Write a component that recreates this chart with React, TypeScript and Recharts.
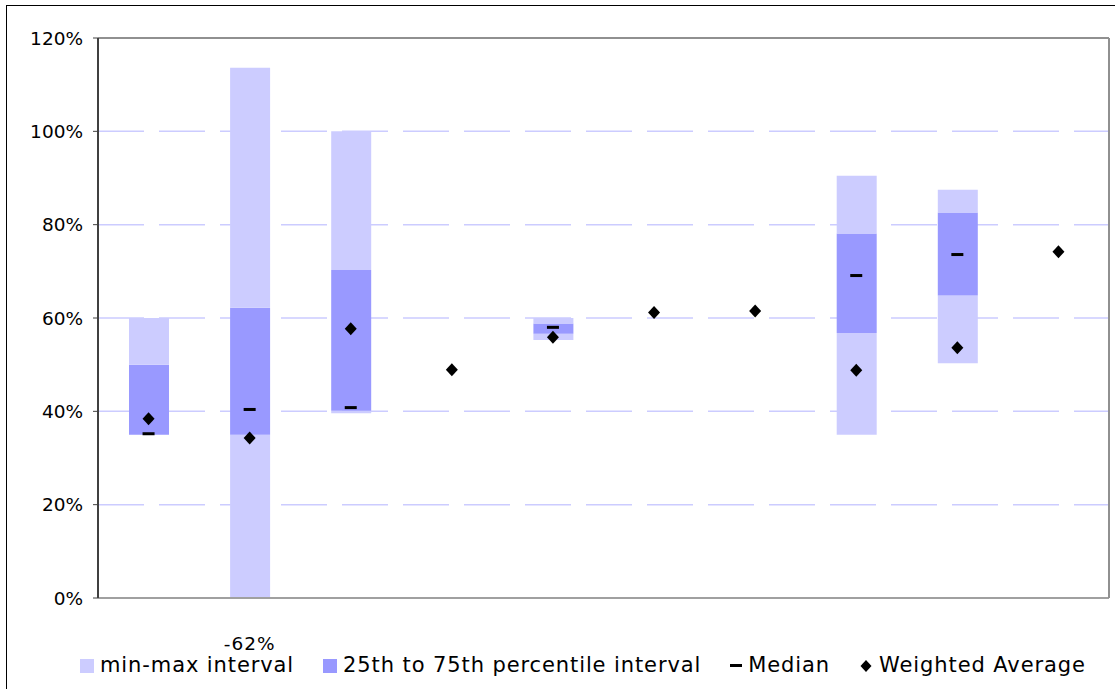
import React from "react";
import {
  ComposedChart,
  Bar,
  Scatter,
  XAxis,
  YAxis,
  CartesianGrid,
} from "recharts";

// values in percent (null = no interval shown)
const categories = ["1", "2", "3", "4", "5", "6", "7", "8", "9", "10"];
const minVals = [35, -62, 39.6, null, 55.3, null, null, 35, 50.3, null];
const q1Vals = [35, 35, 40.1, null, 56.6, null, null, 56.8, 64.8, null];
const q3Vals = [50, 62.2, 70.3, null, 58.8, null, null, 78.1, 82.6, null];
const maxVals = [60, 113.6, 100, null, 60, null, null, 90.5, 87.5, null];
const medians = [35.2, 40.4, 40.8, null, 58.0, null, null, 69.1, 73.6, null];
const weighted = [38.4, 34.3, 57.7, 48.9, 55.9, 61.2, 61.5, 48.8, 53.6, 74.2];
const yTicks = [0, 20, 40, 60, 80, 100, 120];

const LIGHT = "#ccccff";
const DARK = "#9999ff";
const FONT = "'DejaVu Sans', Verdana, sans-serif";

const sub = (a: number | null, b: number | null) =>
  a == null || b == null ? null : +(a - b).toFixed(2);

const data = categories.map((c, i) => ({
  name: c,
  min: minVals[i],
  base: minVals[i],
  lower: sub(q1Vals[i], minVals[i]),
  iqr: sub(q3Vals[i], q1Vals[i]),
  upper: sub(maxVals[i], q3Vals[i]),
  median: medians[i],
  weighted: weighted[i],
}));

const Diamond = (props: any) => {
  const { cx, cy, payload } = props;
  if (payload?.weighted == null || cx == null || cy == null) return <g />;
  return (
    <path
      d={`M${cx},${cy - 6.5} L${cx + 6},${cy} L${cx},${cy + 6.5} L${cx - 6},${cy} Z`}
      fill="#000"
    />
  );
};

const Dash = (props: any) => {
  const { cx, cy, payload } = props;
  if (payload?.median == null || cx == null || cy == null) return <g />;
  return <rect x={cx - 6} y={cy - 1.5} width={12} height={3} fill="#000" />;
};

// value of a minimum that falls below the axis is written under the axis
const OverflowTick = (props: any) => {
  const { x, y, index } = props;
  const m = minVals[index];
  if (m == null || m >= 0) return <g />;
  return (
    <text
      x={x}
      y={y + 52}
      textAnchor="middle"
      fontSize={18.5}
      fontFamily={FONT}
      letterSpacing={1}
      fill="#000"
    >
      {`${m}%`}
    </text>
  );
};

const legendItems = [
  { label: "min-max interval", kind: "box", color: LIGHT },
  { label: "25th to 75th percentile interval", kind: "box", color: DARK },
  { label: "Median", kind: "dash", color: "#000" },
  { label: "Weighted Average", kind: "diamond", color: "#000" },
];

function LegendRow() {
  return (
    <div
      style={{
        position: "absolute",
        left: 80,
        top: 655,
        display: "flex",
        alignItems: "center",
        gap: 29,
        fontFamily: FONT,
        fontSize: 21,
        lineHeight: "21px",
        letterSpacing: 0.9,
        color: "#000",
        whiteSpace: "nowrap",
      }}
    >
      {legendItems.map((it) => (
        <div key={it.label} style={{ display: "flex", alignItems: "center", gap: 6 }}>
          {it.kind === "box" && (
            <span style={{ width: 14, height: 14, background: it.color, display: "inline-block" }} />
          )}
          {it.kind === "dash" && (
            <span style={{ width: 12, height: 3, background: it.color, display: "inline-block" }} />
          )}
          {it.kind === "diamond" && (
            <svg width={14} height={14}>
              <path d="M7,1 L12.5,7 L7,13 L1.5,7 Z" fill={it.color} />
            </svg>
          )}
          <span>{it.label}</span>
        </div>
      ))}
    </div>
  );
}

export default function App() {
  return (
    <div
      style={{
        position: "absolute",
        left: 0,
        top: 0,
        width: 1115,
        height: 689,
        overflow: "hidden",
        background: "#fff",
      }}
    >
      <div
        style={{
          position: "absolute",
          left: 6,
          top: 5,
          width: 1200,
          height: 800,
          border: "1.5px solid #000",
        }}
      />
      <ComposedChart
        width={1115}
        height={689}
        data={data}
        margin={{ top: 37, right: 5, left: 0, bottom: 0 }}
        barSize={40}
        style={{ position: "absolute", left: 0, top: 0 }}
      >
        <CartesianGrid
          vertical={false}
          stroke={LIGHT}
          strokeWidth={1.5}
          strokeDasharray="46 15"
          yAxisId="left"
        />
        <XAxis
          dataKey="name"
          xAxisId="bottom"
          height={91}
          axisLine={{ stroke: "#a0a0a0", strokeWidth: 2 }}
          tickLine={false}
          tickSize={0}
          tickMargin={0}
          tick={<OverflowTick />}
          interval={0}
        />
        <XAxis
          dataKey="name"
          xAxisId="top"
          orientation="top"
          height={1}
          axisLine={{ stroke: "#909090", strokeWidth: 2 }}
          tick={false}
          tickLine={false}
        />
        <YAxis
          yAxisId="left"
          width={98}
          domain={[0, 120]}
          ticks={yTicks}
          allowDataOverflow
          tickFormatter={(v) => `${v}%`}
          axisLine={{ stroke: "#404040", strokeWidth: 2 }}
          tickLine={{ stroke: "#404040" }}
          tickSize={5}
          tickMargin={10}
          tick={{ fontSize: 18.5, fontFamily: FONT, fill: "#000" }}
        />
        <YAxis
          yAxisId="right"
          orientation="right"
          width={1}
          domain={[0, 120]}
          axisLine={{ stroke: "#909090", strokeWidth: 2 }}
          tick={false}
          tickLine={false}
        />
        <Bar dataKey="base" stackId="s" xAxisId="bottom" yAxisId="left" fill="transparent" isAnimationActive={false} />
        <Bar dataKey="lower" stackId="s" xAxisId="bottom" yAxisId="left" fill={LIGHT} isAnimationActive={false} />
        <Bar dataKey="iqr" stackId="s" xAxisId="bottom" yAxisId="left" fill={DARK} isAnimationActive={false} />
        <Bar dataKey="upper" stackId="s" xAxisId="bottom" yAxisId="left" fill={LIGHT} isAnimationActive={false} />
        <Scatter dataKey="median" xAxisId="bottom" yAxisId="left" shape={<Dash />} isAnimationActive={false} />
        <Scatter dataKey="weighted" xAxisId="bottom" yAxisId="left" shape={<Diamond />} isAnimationActive={false} />
      </ComposedChart>
      <LegendRow />
    </div>
  );
}
